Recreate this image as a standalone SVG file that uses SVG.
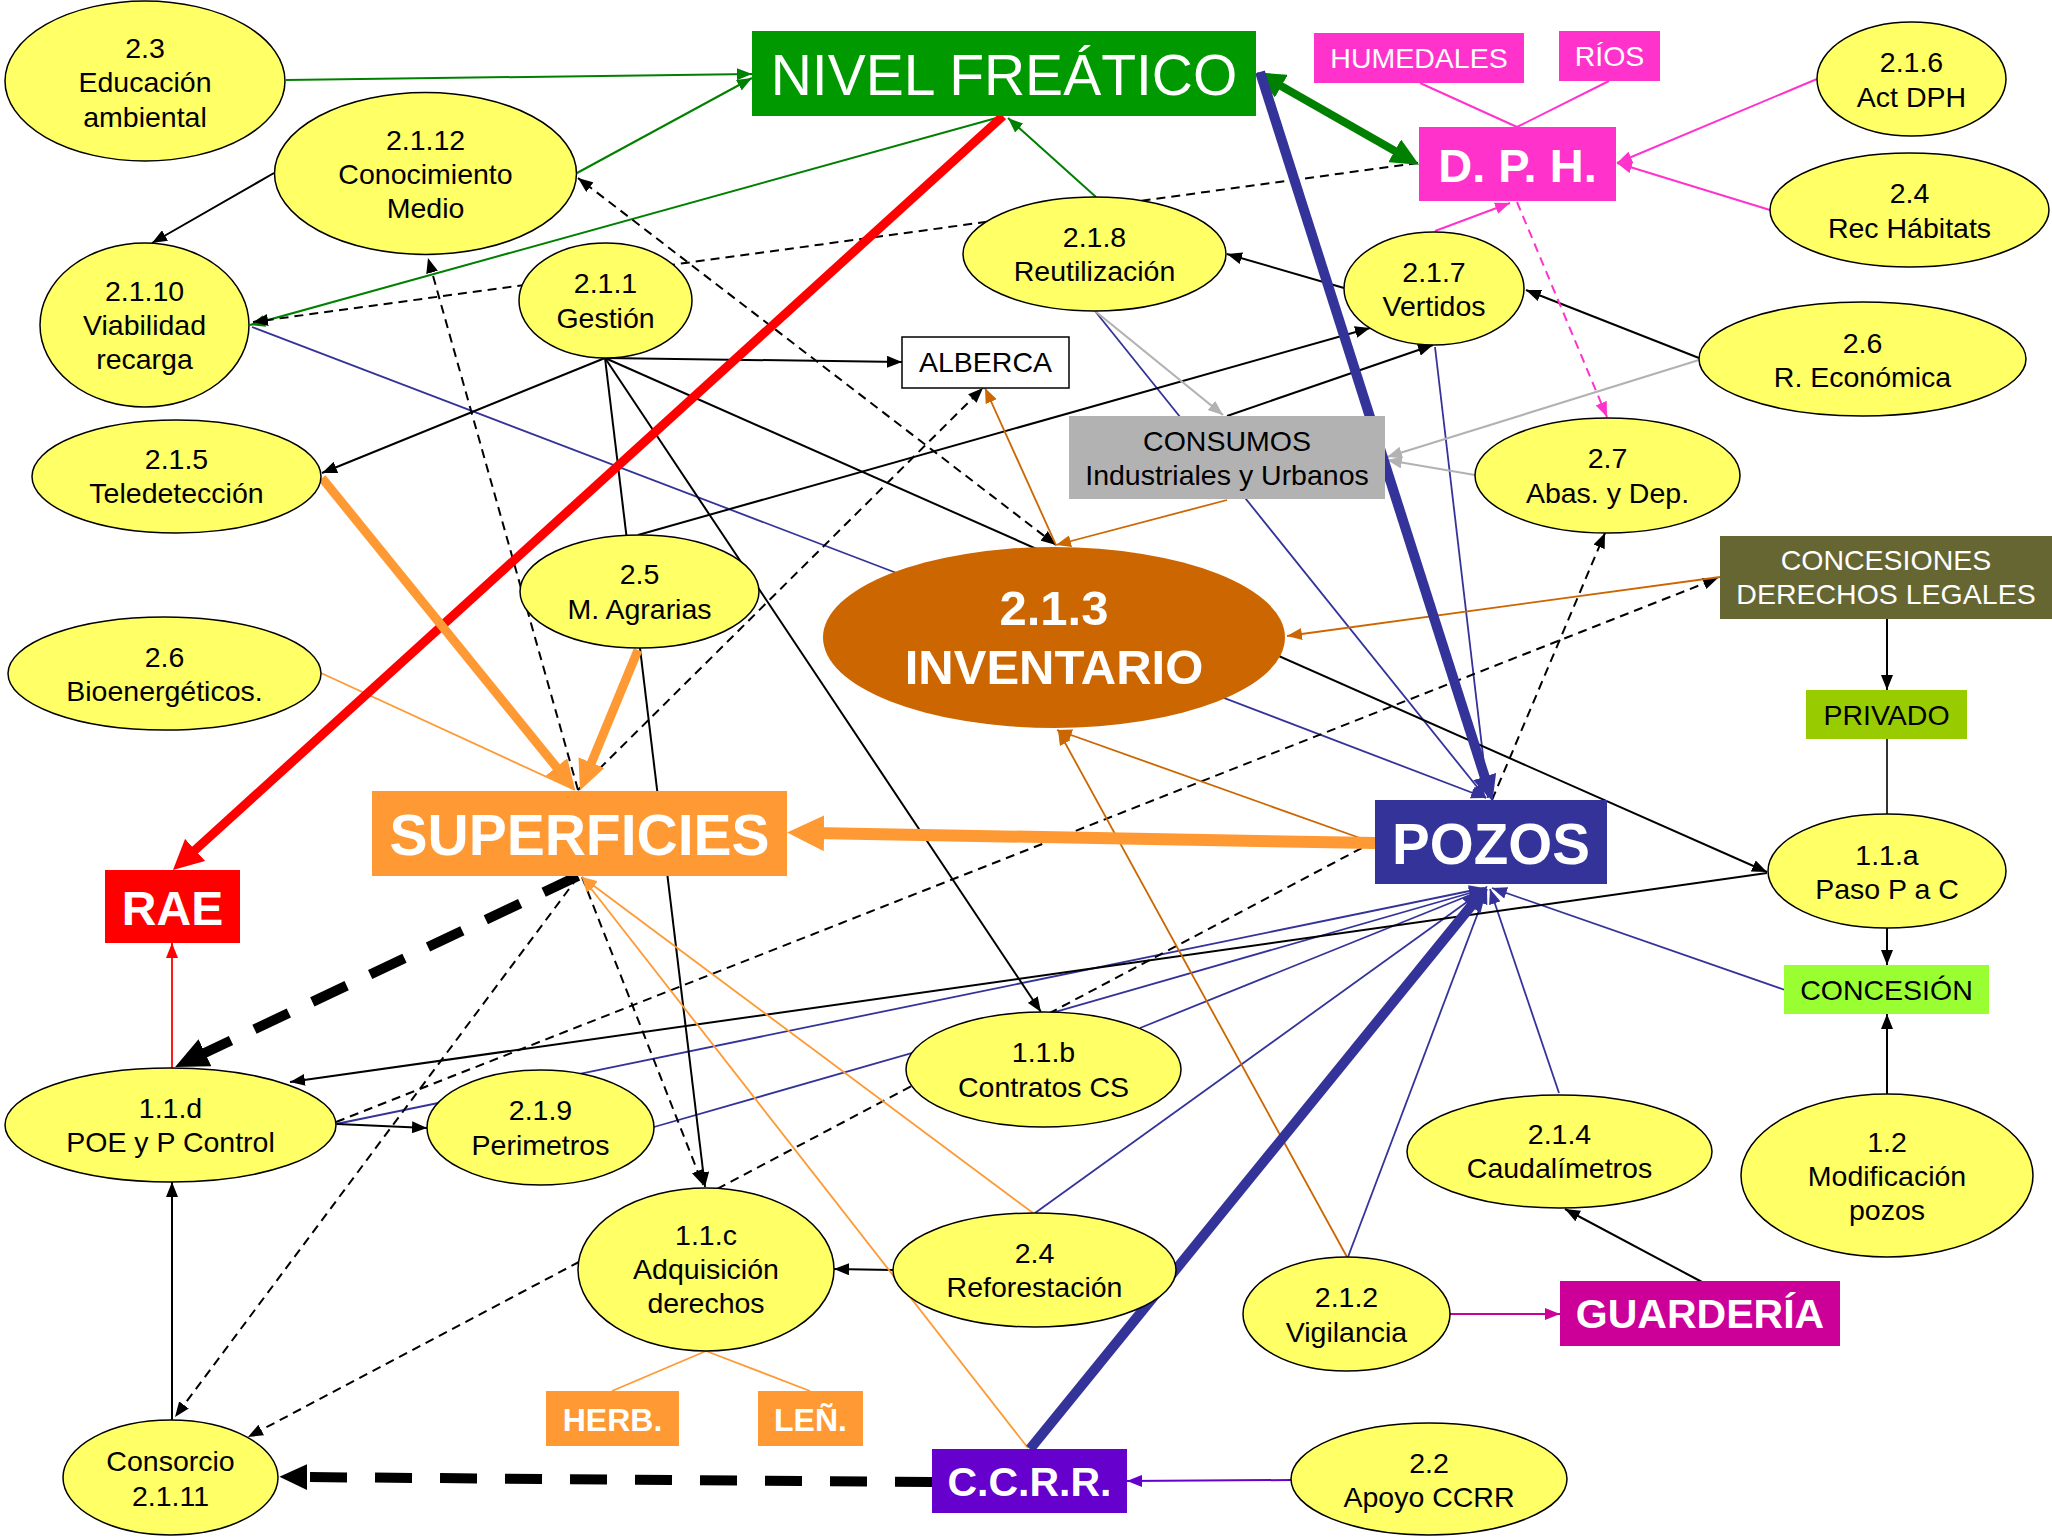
<svg xmlns="http://www.w3.org/2000/svg" width="2052" height="1538" viewBox="0 0 2052 1538">
<style>
.e{fill:#FFFF66;stroke:#000;stroke-width:1.5}
.t{font-family:"Liberation Sans",Arial,Helvetica,sans-serif;font-size:28.5px;text-anchor:middle;fill:#000}
.w{fill:#fff}
.bd{font-weight:bold;fill:#fff}
.k{stroke:#000;stroke-width:2}
.kd{stroke:#000;stroke-width:2;stroke-dasharray:9 6}
.b{stroke:#333399;stroke-width:1.8}
.g{stroke:#008000;stroke-width:2}
.o{stroke:#FF9933;stroke-width:1.8}
.br{stroke:#CC6600;stroke-width:1.8}
.gr{stroke:#B2B2B2;stroke-width:2.2}
.m{stroke:#FF33CC;stroke-width:2}
</style>
<defs>
<marker id="ak" viewBox="0 0 10 10" refX="10" refY="5" markerUnits="userSpaceOnUse" markerWidth="15" markerHeight="12" orient="auto-start-reverse" preserveAspectRatio="none"><polygon points="0,0 10,5 0,10" fill="#000"/></marker>
<marker id="ab" viewBox="0 0 10 10" refX="10" refY="5" markerUnits="userSpaceOnUse" markerWidth="15" markerHeight="12" orient="auto-start-reverse" preserveAspectRatio="none"><polygon points="0,0 10,5 0,10" fill="#333399"/></marker>
<marker id="ag" viewBox="0 0 10 10" refX="10" refY="5" markerUnits="userSpaceOnUse" markerWidth="15" markerHeight="12" orient="auto-start-reverse" preserveAspectRatio="none"><polygon points="0,0 10,5 0,10" fill="#008000"/></marker>
<marker id="ao" viewBox="0 0 10 10" refX="10" refY="5" markerUnits="userSpaceOnUse" markerWidth="15" markerHeight="12" orient="auto-start-reverse" preserveAspectRatio="none"><polygon points="0,0 10,5 0,10" fill="#FF9933"/></marker>
<marker id="abr" viewBox="0 0 10 10" refX="10" refY="5" markerUnits="userSpaceOnUse" markerWidth="15" markerHeight="12" orient="auto-start-reverse" preserveAspectRatio="none"><polygon points="0,0 10,5 0,10" fill="#CC6600"/></marker>
<marker id="agr" viewBox="0 0 10 10" refX="10" refY="5" markerUnits="userSpaceOnUse" markerWidth="15" markerHeight="12" orient="auto-start-reverse" preserveAspectRatio="none"><polygon points="0,0 10,5 0,10" fill="#B2B2B2"/></marker>
<marker id="am" viewBox="0 0 10 10" refX="10" refY="5" markerUnits="userSpaceOnUse" markerWidth="15" markerHeight="12" orient="auto-start-reverse" preserveAspectRatio="none"><polygon points="0,0 10,5 0,10" fill="#FF33CC"/></marker>
<marker id="amg" viewBox="0 0 10 10" refX="10" refY="5" markerUnits="userSpaceOnUse" markerWidth="15" markerHeight="12" orient="auto-start-reverse" preserveAspectRatio="none"><polygon points="0,0 10,5 0,10" fill="#CC0099"/></marker>
<marker id="ar" viewBox="0 0 10 10" refX="10" refY="5" markerUnits="userSpaceOnUse" markerWidth="15" markerHeight="12" orient="auto-start-reverse" preserveAspectRatio="none"><polygon points="0,0 10,5 0,10" fill="#FF0000"/></marker>
<marker id="ap" viewBox="0 0 10 10" refX="10" refY="5" markerUnits="userSpaceOnUse" markerWidth="15" markerHeight="12" orient="auto-start-reverse" preserveAspectRatio="none"><polygon points="0,0 10,5 0,10" fill="#6600CC"/></marker>
<marker id="aR" viewBox="0 0 10 10" refX="3" refY="5" markerUnits="userSpaceOnUse" markerWidth="30" markerHeight="30" orient="auto-start-reverse" preserveAspectRatio="none"><polygon points="0,0 10,5 0,10" fill="#FF0000"/></marker>
<marker id="aO" viewBox="0 0 10 10" refX="3" refY="5" markerUnits="userSpaceOnUse" markerWidth="30" markerHeight="28" orient="auto-start-reverse" preserveAspectRatio="none"><polygon points="0,0 10,5 0,10" fill="#FF9933"/></marker>
<marker id="aOB" viewBox="0 0 10 10" refX="3" refY="5" markerUnits="userSpaceOnUse" markerWidth="37" markerHeight="36" orient="auto-start-reverse" preserveAspectRatio="none"><polygon points="0,0 10,5 0,10" fill="#FF9933"/></marker>
<marker id="aG" viewBox="0 0 10 10" refX="3" refY="5" markerUnits="userSpaceOnUse" markerWidth="28" markerHeight="26" orient="auto-start-reverse" preserveAspectRatio="none"><polygon points="0,0 10,5 0,10" fill="#008000"/></marker>
<marker id="aB" viewBox="0 0 10 10" refX="3" refY="5" markerUnits="userSpaceOnUse" markerWidth="26" markerHeight="24" orient="auto-start-reverse" preserveAspectRatio="none"><polygon points="0,0 10,5 0,10" fill="#333399"/></marker>
<marker id="aK" viewBox="0 0 10 10" refX="3" refY="5" markerUnits="userSpaceOnUse" markerWidth="33" markerHeight="30" orient="auto-start-reverse" preserveAspectRatio="none"><polygon points="0,0 10,5 0,10" fill="#000"/></marker>
<marker id="aK2" viewBox="0 0 10 10" refX="3" refY="5" markerUnits="userSpaceOnUse" markerWidth="28" markerHeight="26" orient="auto-start-reverse" preserveAspectRatio="none"><polygon points="0,0 10,5 0,10" fill="#000"/></marker>
</defs>
<rect width="2052" height="1538" fill="#fff"/>
<g id="connectors" fill="none">
<line class="g" x1="286" y1="80" x2="752" y2="74" marker-end="url(#ag)"/>
<line class="g" x1="577" y1="173" x2="752" y2="78" marker-end="url(#ag)"/>
<line class="g" x1="1000" y1="117" x2="250" y2="325" marker-end="url(#ag)"/>
<line class="g" x1="1096" y1="197" x2="1008" y2="118" marker-end="url(#ag)"/>
<line class="b" x1="252" y1="327" x2="1486" y2="798" marker-end="url(#ab)"/>
<line class="b" x1="1095" y1="311" x2="1486" y2="798" marker-end="url(#ab)"/>
<line class="b" x1="1435" y1="347" x2="1488" y2="798" marker-end="url(#ab)"/>
<line class="b" x1="336" y1="1124" x2="1484" y2="888" marker-end="url(#ab)"/>
<line class="b" x1="654" y1="1127" x2="1484" y2="889" marker-end="url(#ab)"/>
<line class="b" x1="1140" y1="1028" x2="1485" y2="889" marker-end="url(#ab)"/>
<line class="b" x1="1035" y1="1213" x2="1485" y2="889" marker-end="url(#ab)"/>
<line class="b" x1="1348" y1="1257" x2="1487" y2="889" marker-end="url(#ab)"/>
<line class="b" x1="1559" y1="1093" x2="1490" y2="889" marker-end="url(#ab)"/>
<line class="b" x1="1785" y1="990" x2="1492" y2="888" marker-end="url(#ab)"/>
<line class="k" x1="274" y1="173" x2="152" y2="243" marker-end="url(#ak)"/>
<line class="k" x1="605" y1="358" x2="902" y2="362" marker-end="url(#ak)"/>
<line class="k" x1="605" y1="358" x2="322" y2="473" marker-end="url(#ak)"/>
<line class="k" x1="605" y1="358" x2="705" y2="1187" marker-end="url(#ak)"/>
<line class="k" x1="605" y1="358" x2="1041" y2="1012" marker-end="url(#ak)"/>
<line class="k" x1="605" y1="358" x2="1767" y2="872" marker-end="url(#ak)"/>
<line class="k" x1="638" y1="535" x2="1370" y2="328" marker-end="url(#ak)"/>
<line class="k" x1="1227" y1="416" x2="1433" y2="345" marker-end="url(#ak)"/>
<line class="k" x1="1344" y1="288" x2="1227" y2="254" marker-end="url(#ak)"/>
<line class="k" x1="1699" y1="358" x2="1526" y2="290" marker-end="url(#ak)"/>
<line class="k" x1="1887" y1="619" x2="1887" y2="690" marker-end="url(#ak)"/>
<line x1="1887" y1="739" x2="1887" y2="814" stroke="#333" stroke-width="2"/>
<line class="k" x1="1887" y1="928" x2="1887" y2="965" marker-end="url(#ak)"/>
<line class="k" x1="1887" y1="1094" x2="1887" y2="1014" marker-end="url(#ak)"/>
<line class="k" x1="1702" y1="1282" x2="1565" y2="1209" marker-end="url(#ak)"/>
<line class="k" x1="1767" y1="873" x2="290" y2="1082" marker-end="url(#ak)"/>
<line class="k" x1="337" y1="1124" x2="427" y2="1128" marker-end="url(#ak)"/>
<line class="k" x1="172" y1="1420" x2="172" y2="1182" marker-end="url(#ak)"/>
<line class="k" x1="893" y1="1270" x2="834" y2="1269" marker-end="url(#ak)"/>
<line class="kd" x1="1056" y1="545" x2="578" y2="178" marker-start="url(#ak)" marker-end="url(#ak)"/>
<line class="kd" x1="1418" y1="163" x2="253" y2="322" marker-end="url(#ak)"/>
<line class="kd" x1="578" y1="790" x2="428" y2="258" marker-end="url(#ak)"/>
<line class="kd" x1="582" y1="877" x2="703" y2="1185" marker-end="url(#ak)"/>
<line class="kd" x1="578" y1="790" x2="983" y2="388" marker-end="url(#ak)"/>
<line class="kd" x1="578" y1="877" x2="175" y2="1417" marker-end="url(#ak)"/>
<line class="kd" x1="1375" y1="841" x2="248" y2="1437" marker-end="url(#ak)"/>
<line class="kd" x1="336" y1="1122" x2="1718" y2="578" marker-end="url(#ak)"/>
<line class="kd" x1="1492" y1="800" x2="1605" y2="533" marker-end="url(#ak)"/>
<line class="m" x1="1517" y1="202" x2="1607" y2="417" stroke-dasharray="9 6" marker-end="url(#am)"/>
<line class="o" x1="321" y1="673" x2="575" y2="790"/>
<line class="o" x1="1033" y1="1213" x2="582" y2="877" marker-end="url(#ao)"/>
<line class="o" x1="1028" y1="1448" x2="582" y2="877" marker-end="url(#ao)"/>
<line class="o" x1="706" y1="1351" x2="612" y2="1391"/>
<line class="o" x1="706" y1="1351" x2="810" y2="1391"/>
<line class="br" x1="1227" y1="500" x2="1056" y2="545" marker-end="url(#abr)"/>
<line class="br" x1="1056" y1="545" x2="985" y2="388" marker-end="url(#abr)"/>
<line class="br" x1="1720" y1="577" x2="1287" y2="636" marker-end="url(#abr)"/>
<line class="br" x1="1360" y1="838" x2="1057" y2="730" marker-end="url(#abr)"/>
<line class="br" x1="1347" y1="1257" x2="1058" y2="730" marker-end="url(#abr)"/>
<line class="gr" x1="1095" y1="311" x2="1223" y2="415" marker-end="url(#agr)"/>
<line class="gr" x1="1699" y1="360" x2="1387" y2="457" marker-end="url(#agr)"/>
<line class="gr" x1="1475" y1="475" x2="1387" y2="460" marker-end="url(#agr)"/>
<line class="m" x1="1420" y1="83" x2="1517" y2="127"/>
<line class="m" x1="1609" y1="81" x2="1517" y2="127"/>
<line class="m" x1="1817" y1="79" x2="1617" y2="163" marker-end="url(#am)"/>
<line class="m" x1="1770" y1="210" x2="1617" y2="163" marker-end="url(#am)"/>
<line class="m" x1="1435" y1="231" x2="1510" y2="203" marker-end="url(#am)"/>
<line x1="1450" y1="1314" x2="1560" y2="1314" stroke="#CC0099" stroke-width="2" marker-end="url(#amg)"/>
<line x1="1291" y1="1480" x2="1127" y2="1481" stroke="#6600CC" stroke-width="2" marker-end="url(#ap)"/>
<line x1="172" y1="1068" x2="172" y2="943" stroke="#FF0000" stroke-width="1.8" marker-end="url(#ar)"/>
<line x1="1003" y1="116" x2="188.5" y2="856" stroke="#FF0000" stroke-width="9" marker-end="url(#aR)"/>
<line x1="322" y1="478" x2="562" y2="774" stroke="#FF9933" stroke-width="9" marker-end="url(#aO)"/>
<line x1="638" y1="650" x2="588" y2="771" stroke="#FF9933" stroke-width="9" marker-end="url(#aO)"/>
<line x1="1375" y1="843" x2="813" y2="833" stroke="#FF9933" stroke-width="12" marker-end="url(#aOB)"/>
<line x1="1274" y1="82" x2="1402" y2="155" stroke="#008000" stroke-width="8" marker-start="url(#aG)" marker-end="url(#aG)"/>
<line x1="1260" y1="72" x2="1487" y2="784" stroke="#333399" stroke-width="10" marker-end="url(#aB)"/>
<line x1="1030" y1="1449" x2="1476" y2="900" stroke="#333399" stroke-width="10" marker-end="url(#aB)"/>
<line x1="578" y1="876" x2="196" y2="1057" stroke="#000" stroke-width="10" stroke-dasharray="38 26" marker-end="url(#aK)"/>
<line x1="932" y1="1482" x2="299" y2="1477" stroke="#000" stroke-width="10" stroke-dasharray="37 28" marker-end="url(#aK2)"/>
</g>
<g id="n-nivel"><rect x="752" y="31" width="504" height="85" fill="#009900"/><text class="t w" x="1004" y="95" style="font-size:57px">NIVEL FREÁTICO</text></g>
<g id="n-dph"><rect x="1419" y="127" width="197" height="74" fill="#FF33CC"/><text class="t bd" x="1517.5" y="182" style="font-size:47px">D. P. H.</text></g>
<g id="n-humedales"><rect x="1314" y="33" width="210" height="50" fill="#FF33CC"/><text class="t w" x="1419" y="68">HUMEDALES</text></g>
<g id="n-rios"><rect x="1559" y="31" width="101" height="50" fill="#FF33CC"/><text class="t w" x="1609.5" y="66">RÍOS</text></g>
<g id="n-alberca"><rect x="902" y="337" width="167" height="51" fill="#fff" stroke="#000" stroke-width="1.5"/><text class="t" x="985.5" y="372">ALBERCA</text></g>
<g id="n-consumos"><rect x="1069" y="416" width="316" height="83" fill="#B2B2B2"/><text class="t" x="1227" y="451">CONSUMOS</text><text class="t" x="1227" y="485">Industriales y Urbanos</text></g>
<g id="n-concesiones"><rect x="1720" y="536" width="332" height="83" fill="#666633"/><text class="t w" x="1886" y="570">CONCESIONES</text><text class="t w" x="1886" y="604">DERECHOS LEGALES</text></g>
<g id="n-privado"><rect x="1806" y="690" width="161" height="49" fill="#99CC00"/><text class="t" x="1886.5" y="725">PRIVADO</text></g>
<g id="n-concesion"><rect x="1784" y="965" width="205" height="49" fill="#99FF33"/><text class="t" x="1886.5" y="1000">CONCESIÓN</text></g>
<g id="n-pozos"><rect x="1375" y="800" width="232" height="84" fill="#333399"/><text class="t bd" x="1491" y="864" style="font-size:56.5px">POZOS</text></g>
<g id="n-superficies"><rect x="372" y="791" width="415" height="85" fill="#FF9933"/><text class="t bd" x="579.5" y="855" style="font-size:57px">SUPERFICIES</text></g>
<g id="n-rae"><rect x="105" y="870" width="135" height="73" fill="#FF0000"/><text class="t bd" x="172.5" y="925" style="font-size:48px">RAE</text></g>
<g id="n-herb"><rect x="546" y="1391" width="133" height="55" fill="#FF9933"/><text class="t bd" x="612.5" y="1431" style="font-size:32px">HERB.</text></g>
<g id="n-len"><rect x="758" y="1391" width="105" height="55" fill="#FF9933"/><text class="t bd" x="810.5" y="1431" style="font-size:32px">LEÑ.</text></g>
<g id="n-ccrr"><rect x="932" y="1449" width="195" height="64" fill="#6600CC"/><text class="t bd" x="1029.5" y="1496" style="font-size:41px">C.C.R.R.</text></g>
<g id="n-guarderia"><rect x="1560" y="1281" width="280" height="65" fill="#CC0099"/><text class="t bd" x="1700" y="1328" style="font-size:41px">GUARDERÍA</text></g>
<g id="n-inventario"><ellipse cx="1054" cy="637.5" rx="231" ry="90.5" fill="#CC6600"/><text class="t bd" x="1054" y="625" style="font-size:49px">2.1.3</text><text class="t bd" x="1054" y="684" style="font-size:49px">INVENTARIO</text></g>
<g id="n-2-3"><ellipse class="e" cx="145" cy="81" rx="140" ry="80"/><text class="t" x="145" y="58">2.3</text><text class="t" x="145" y="92">Educación</text><text class="t" x="145" y="127">ambiental</text></g>
<g id="n-2-1-12"><ellipse class="e" cx="425.5" cy="173.5" rx="151" ry="81"/><text class="t" x="425.5" y="150">2.1.12</text><text class="t" x="425.5" y="184">Conocimiento</text><text class="t" x="425.5" y="218">Medio</text></g>
<g id="n-2-1-10"><ellipse class="e" cx="144.5" cy="325" rx="104.5" ry="82"/><text class="t" x="144.5" y="301">2.1.10</text><text class="t" x="144.5" y="335">Viabilidad</text><text class="t" x="144.5" y="369">recarga</text></g>
<g id="n-2-1-5"><ellipse class="e" cx="176.5" cy="476.5" rx="144.5" ry="56.5"/><text class="t" x="176.5" y="469">2.1.5</text><text class="t" x="176.5" y="503">Teledetección</text></g>
<g id="n-2-6b"><ellipse class="e" cx="164.5" cy="673.5" rx="156.5" ry="56.5"/><text class="t" x="164.5" y="667">2.6</text><text class="t" x="164.5" y="701">Bioenergéticos.</text></g>
<g id="n-2-1-1"><ellipse class="e" cx="605.5" cy="300.5" rx="86.5" ry="57.5"/><text class="t" x="605.5" y="293">2.1.1</text><text class="t" x="605.5" y="328">Gestión</text></g>
<g id="n-2-5"><ellipse class="e" cx="639.5" cy="591.5" rx="119.5" ry="56.5"/><text class="t" x="639.5" y="584">2.5</text><text class="t" x="639.5" y="619">M. Agrarias</text></g>
<g id="n-2-1-8"><ellipse class="e" cx="1094.5" cy="254" rx="131.5" ry="57"/><text class="t" x="1094.5" y="247">2.1.8</text><text class="t" x="1094.5" y="281">Reutilización</text></g>
<g id="n-2-1-7"><ellipse class="e" cx="1434" cy="288.5" rx="90" ry="56.5"/><text class="t" x="1434" y="282">2.1.7</text><text class="t" x="1434" y="316">Vertidos</text></g>
<g id="n-2-7"><ellipse class="e" cx="1607.5" cy="475.5" rx="132.5" ry="57.5"/><text class="t" x="1607.5" y="468">2.7</text><text class="t" x="1607.5" y="503">Abas. y Dep.</text></g>
<g id="n-2-1-6"><ellipse class="e" cx="1911.5" cy="79" rx="94.5" ry="57"/><text class="t" x="1911.5" y="72">2.1.6</text><text class="t" x="1911.5" y="107">Act DPH</text></g>
<g id="n-2-4r"><ellipse class="e" cx="1909.5" cy="210" rx="139.5" ry="57"/><text class="t" x="1909.5" y="203">2.4</text><text class="t" x="1909.5" y="238">Rec Hábitats</text></g>
<g id="n-2-6r"><ellipse class="e" cx="1862.5" cy="359" rx="163.5" ry="57"/><text class="t" x="1862.5" y="353">2.6</text><text class="t" x="1862.5" y="387">R. Económica</text></g>
<g id="n-1-1-a"><ellipse class="e" cx="1887" cy="871" rx="119" ry="57"/><text class="t" x="1887" y="865">1.1.a</text><text class="t" x="1887" y="899">Paso P a C</text></g>
<g id="n-1-2"><ellipse class="e" cx="1887" cy="1175.5" rx="146" ry="81.5"/><text class="t" x="1887" y="1152">1.2</text><text class="t" x="1887" y="1186">Modificación</text><text class="t" x="1887" y="1220">pozos</text></g>
<g id="n-2-1-4"><ellipse class="e" cx="1559.5" cy="1151.5" rx="152.5" ry="56.5"/><text class="t" x="1559.5" y="1144">2.1.4</text><text class="t" x="1559.5" y="1178">Caudalímetros</text></g>
<g id="n-2-1-2"><ellipse class="e" cx="1346.5" cy="1314" rx="103.5" ry="57"/><text class="t" x="1346.5" y="1307">2.1.2</text><text class="t" x="1346.5" y="1342">Vigilancia</text></g>
<g id="n-2-2"><ellipse class="e" cx="1429" cy="1479" rx="138" ry="56"/><text class="t" x="1429" y="1473">2.2</text><text class="t" x="1429" y="1507">Apoyo CCRR</text></g>
<g id="n-1-1-b"><ellipse class="e" cx="1043.5" cy="1069.5" rx="137.5" ry="57.5"/><text class="t" x="1043.5" y="1062">1.1.b</text><text class="t" x="1043.5" y="1097">Contratos CS</text></g>
<g id="n-2-4f"><ellipse class="e" cx="1034.5" cy="1270" rx="141.5" ry="57"/><text class="t" x="1034.5" y="1263">2.4</text><text class="t" x="1034.5" y="1297">Reforestación</text></g>
<g id="n-1-1-c"><ellipse class="e" cx="706" cy="1269.5" rx="128" ry="81.5"/><text class="t" x="706" y="1245">1.1.c</text><text class="t" x="706" y="1279">Adquisición</text><text class="t" x="706" y="1313">derechos</text></g>
<g id="n-2-1-9"><ellipse class="e" cx="540.5" cy="1127.5" rx="113.5" ry="57.5"/><text class="t" x="540.5" y="1120">2.1.9</text><text class="t" x="540.5" y="1155">Perimetros</text></g>
<g id="n-1-1-d"><ellipse class="e" cx="170.5" cy="1125" rx="165.5" ry="57"/><text class="t" x="170.5" y="1118">1.1.d</text><text class="t" x="170.5" y="1152">POE y P Control</text></g>
<g id="n-consorcio"><ellipse class="e" cx="170.5" cy="1477.5" rx="107.5" ry="57.5"/><text class="t" x="170.5" y="1471">Consorcio</text><text class="t" x="170.5" y="1506">2.1.11</text></g>
</svg>
